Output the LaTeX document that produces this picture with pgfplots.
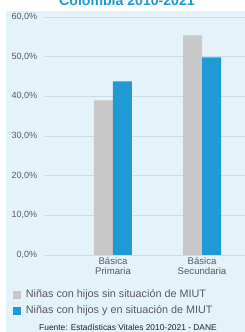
\documentclass[border=0pt]{standalone}
\usepackage{pgfplots}
\pgfplotsset{compat=1.18}
\usepackage{fontspec}
\setmainfont{Liberation Sans}
\definecolor{bgpanel}{HTML}{E4F2FA}
\definecolor{gridcol}{HTML}{C8DDE8}
\definecolor{bargray}{HTML}{C8C8C8}
\definecolor{barblue}{HTML}{1F9AD6}
\definecolor{titleblue}{HTML}{1E98D4}
\definecolor{labelgray}{HTML}{5A5A5A}
\definecolor{footcol}{HTML}{222222}
\begin{document}
\begin{tikzpicture}[x=1pt,y=1pt]
\fill[bgpanel] (5.5,0) rectangle (245,321.3);
\node[font=\bfseries\fontsize{14.1}{16}\selectfont, text=titleblue, anchor=base, inner sep=0pt] at (127,326) {Colombia 2010-2021};
\begin{axis}[
  at={(44pt,77pt)}, anchor=south west,
  scale only axis, width=201pt, height=238pt,
  xmin=-0.775, xmax=1.483, ymin=0, ymax=60,
  axis line style={draw=none},
  major tick length=0pt,
  ymajorgrids, grid style={gridcol, line width=0.9pt},
  ytick={0,10,20,30,40,50,60},
  yticklabels={{0,0\%},{10,0\%},{20,0\%},{30,0\%},{40,0\%},{50,0\%},{60,0\%}},
  yticklabel style={font=\fontsize{9}{10}\selectfont, text=labelgray, inner sep=0pt},
  yticklabel shift=6.7pt,
  xtick={0,1},
  xticklabels={{Básica\\Primaria},{Básica\\Secundaria}},
  xticklabel style={align=center, font=\fontsize{9.6}{10}\selectfont, text=labelgray, inner sep=0pt},
  xticklabel shift=2.5pt,
  ybar=0pt, bar width=19pt,
  legend style={at={(axis description cs:-0.1557,-0.1440)}, anchor=north west,
    draw=none, fill=none, inner sep=0pt, row sep=5.6pt, column sep=0pt,
    font=\fontsize{10.8}{12}\selectfont, text=labelgray,
    nodes={inner sep=0pt, text height=8pt, text depth=2.3pt}},
  legend cell align=left,
  legend image code/.code={\fill[#1] (0pt,-4pt) rectangle (8pt,4pt); \path (13pt,0pt);},
]
\addplot[fill=bargray, draw=none] coordinates {(0,39.0) (1,55.4)};
\addplot[fill=barblue, draw=none] coordinates {(0,43.8) (1,49.8)};
\legend{Niñas con hijos sin situación de MIUT, Niñas con hijos y en situación de MIUT}
\end{axis}
\node[font=\fontsize{8.4}{10}\selectfont, text=footcol, anchor=base, inner sep=0pt] at (128,1.5) {Fuente: Estadísticas Vitales 2010-2021 - DANE};
\pgfresetboundingbox
\path (0,0) rectangle (245,332);
\end{tikzpicture}
\end{document}
